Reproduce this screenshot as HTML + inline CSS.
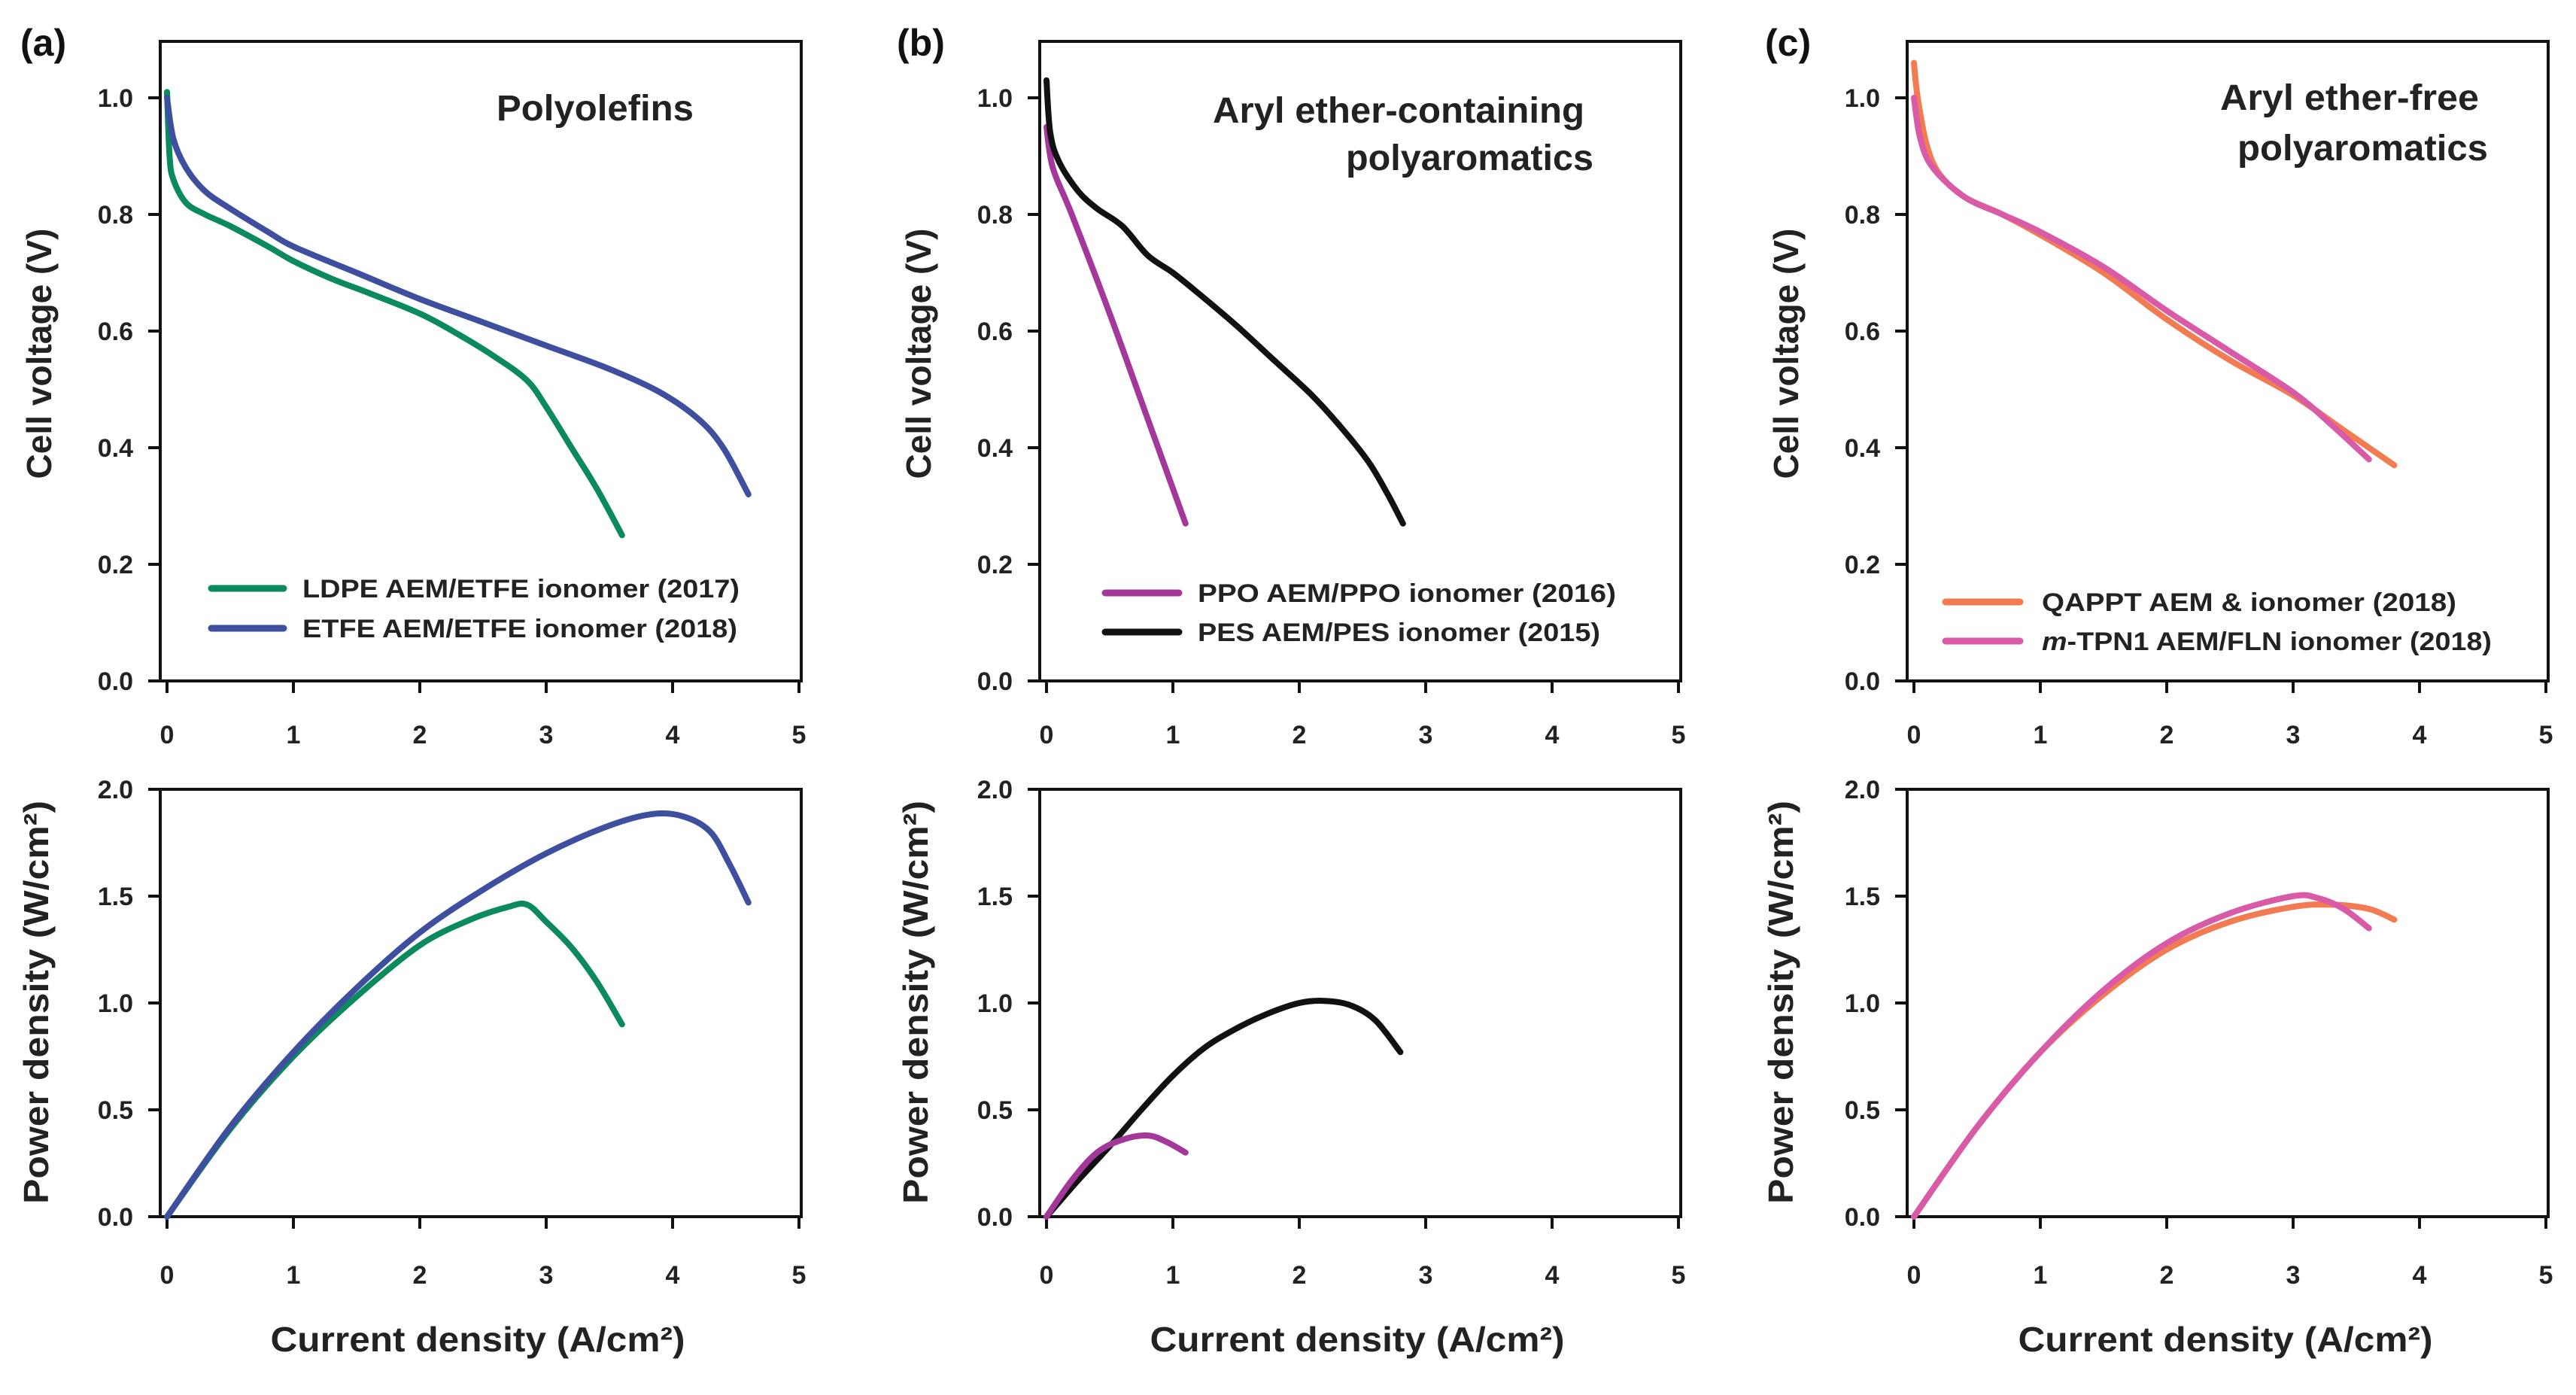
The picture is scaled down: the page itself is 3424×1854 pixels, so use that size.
<!DOCTYPE html>
<html><head><meta charset="utf-8">
<style>
html,body{margin:0;padding:0;background:#fff;}
svg{display:block;font-family:"Liberation Sans",sans-serif;}
</style></head>
<body>
<svg id="fig" width="3424" height="1854" viewBox="0 0 3424 1854" xmlns="http://www.w3.org/2000/svg"></svg>
<script>
// ---- data (current density A/cm2, voltage V, power W/cm2) ----
const xTicks = [0,1,2,3,4,5];
const vTicks = [0.0,0.2,0.4,0.6,0.8,1.0];
const vTickLabels = ["0.0","0.2","0.4","0.6","0.8","1.0"];
const pTicks = [0.0,0.5,1.0,1.5,2.0];
const pTickLabels = ["0.0","0.5","1.0","1.5","2.0"];

const ldpeI = [0,0.02,0.05,0.15,0.3,0.5,0.8,1.0,1.3,1.6,2.0,2.3,2.6,2.85,3.0,3.2,3.4,3.6];
const ldpeV = [1.01,0.90,0.86,0.82,0.80,0.78,0.745,0.72,0.69,0.665,0.63,0.595,0.555,0.515,0.47,0.40,0.33,0.25];
const etfeI = [0,0.05,0.15,0.3,0.5,0.8,1.0,1.5,2.0,2.5,3.0,3.5,3.9,4.2,4.4,4.6];
const etfeV = [1.0,0.93,0.88,0.84,0.81,0.77,0.745,0.70,0.655,0.615,0.575,0.535,0.495,0.45,0.40,0.32];
const ldpePI = [0,0.5,1.0,1.5,2.0,2.4,2.7,2.85,3.0,3.2,3.4,3.6];
const ldpeP = [0,0.41,0.75,1.03,1.27,1.39,1.45,1.46,1.38,1.26,1.10,0.90];
const etfePI = [0,0.5,1.0,1.5,2.0,2.5,3.0,3.5,3.85,4.1,4.3,4.45,4.6];
const etfeP = [0,0.42,0.77,1.07,1.33,1.53,1.70,1.83,1.885,1.87,1.80,1.65,1.47];

const ppoI = [0,0.05,0.2,0.5,0.8,1.1];
const ppoV = [0.95,0.88,0.80,0.63,0.45,0.27];
const pesI = [0,0.03,0.1,0.25,0.4,0.6,0.8,1.0,1.2,1.5,1.8,2.1,2.35,2.55,2.7,2.82];
const pesV = [1.03,0.94,0.89,0.84,0.81,0.78,0.73,0.70,0.665,0.61,0.55,0.49,0.43,0.375,0.32,0.27];
const ppoPI = [0,0.2,0.4,0.6,0.8,0.95,1.1];
const ppoP = [0,0.17,0.30,0.36,0.38,0.35,0.30];
const pesPI = [0,0.25,0.5,0.75,1.0,1.25,1.5,1.75,2.0,2.2,2.4,2.6,2.8];
const pesP = [0,0.17,0.33,0.50,0.66,0.79,0.88,0.95,1.0,1.01,0.99,0.92,0.77];

const qapptI = [0,0.03,0.1,0.2,0.4,0.7,1.0,1.5,2.0,2.5,3.0,3.4,3.8];
const qapptV = [1.06,1.0,0.92,0.87,0.83,0.80,0.765,0.70,0.62,0.55,0.49,0.43,0.37];
const tpnI = [0,0.05,0.15,0.4,0.7,1.0,1.5,2.0,2.5,3.0,3.3,3.6];
const tpnV = [1.0,0.93,0.88,0.83,0.80,0.77,0.71,0.635,0.565,0.495,0.44,0.38];
const qapptPI = [0,0.5,1.0,1.5,2.0,2.5,3.0,3.3,3.6,3.8];
const qapptP = [0,0.42,0.77,1.04,1.25,1.38,1.45,1.46,1.44,1.39];
const tpnPI = [0,0.5,1.0,1.5,2.0,2.5,3.0,3.2,3.4,3.6];
const tpnP = [0,0.42,0.77,1.06,1.28,1.42,1.50,1.49,1.44,1.35];

const NS = "http://www.w3.org/2000/svg";
const svg = document.getElementById('fig');
function mk(tag, attrs, parent){
  const e = document.createElementNS(NS, tag);
  for (const k in attrs) e.setAttribute(k, attrs[k]);
  (parent||svg).appendChild(e);
  return e;
}
function txt(s, attrs, parent){ const t = mk('text', attrs, parent); t.textContent = s; return t; }

function smoothPath(pts){
  let d = "M" + pts[0][0].toFixed(1) + "," + pts[0][1].toFixed(1);
  for (let i=0;i<pts.length-1;i++){
    const p0 = pts[Math.max(0,i-1)], p1 = pts[i], p2 = pts[i+1], p3 = pts[Math.min(pts.length-1,i+2)];
    const c1x = p1[0]+(p2[0]-p0[0])/6, c1y = p1[1]+(p2[1]-p0[1])/6;
    const c2x = p2[0]-(p3[0]-p1[0])/6, c2y = p2[1]-(p3[1]-p1[1])/6;
    d += " C"+c1x.toFixed(1)+","+c1y.toFixed(1)+" "+c2x.toFixed(1)+","+c2y.toFixed(1)+" "+p2[0].toFixed(1)+","+p2[1].toFixed(1);
  }
  return d;
}

const TOP = {y0:905, top:55, scale:775};
const BOT = {y0:1617, top:1049, scale:284};

function drawAxes(L, cfg, ticks, labels, labelY, name){
  const g = mk('g', {});
  
  
  const xs = v => L + 9 + v*168;
  const ys = v => cfg.y0 - v*cfg.scale;
  const fr = mk('rect', {x:L, y:cfg.top, width:852, height:cfg.y0-cfg.top, fill:'none', stroke:'#111', 'stroke-width':4}, g);
  
  
  xTicks.forEach(t => {
    mk('line', {x1:xs(t), y1:cfg.y0, x2:xs(t), y2:cfg.y0+16, stroke:'#111','stroke-width':4}, g);
    const tl = txt(String(t), {x:xs(t), y:labelY, 'font-size':34, 'font-weight':'bold', 'text-anchor':'middle', fill:'#222'}, g);
    
    
  });
  ticks.forEach((t,i) => {
    mk('line', {x1:L-16, y1:ys(t), x2:L, y2:ys(t), stroke:'#111','stroke-width':4}, g);
    const tl = txt(labels[i], {x:L-36, y:ys(t)+12, 'font-size':34, 'font-weight':'bold', 'text-anchor':'end', fill:'#222'}, g);
    
    
  });
  return {xs, ys};
}

function drawSeries(ax, I, Y, color, name){
  const pts = I.map((v,i)=>[ax.xs(v), ax.ys(Y[i])]);
  const p = mk('path', {d:smoothPath(pts), fill:'none', stroke:color, 'stroke-width':8, 'stroke-linecap':'round', 'stroke-linejoin':'round'});
  
  
}

function legend(x1, x2, tx, y, color, label, len, name){
  const l = mk('line', {x1:x1, y1:y, x2:x2, y2:y, stroke:color, 'stroke-width':9, 'stroke-linecap':'round'});
  
  
  const t = txt(label, {x:tx, y:y+12, 'font-size':34, 'font-weight':'bold', fill:'#222', textLength:len, lengthAdjust:'spacingAndGlyphs'});
  
  
  return t;
}

function vtitle(s, cx, cy, len, name){
  const t = txt(s, {x:0, y:0, 'font-size':46, 'font-weight':'bold', 'text-anchor':'middle', fill:'#222',
    transform:'translate('+cx+','+cy+') rotate(-90)', textLength:len, lengthAdjust:'spacingAndGlyphs'});
  
  
  return t;
}

const colors = {ldpe:'#0b8a5e', etfe:'#3d4f9e', ppo:'#a3389a', pes:'#111111', qappt:'#f27b52', tpn:'#d95aa6'};
const panels = [
  {L:213, tag:'(a)', tagX:27, vtX:68, ptX:64, xtX:635},
  {L:1382, tag:'(b)', tagX:1192, vtX:1237, ptX:1233, xtX:1804},
  {L:2535, tag:'(c)', tagX:2346, vtX:2390, ptX:2383, xtX:2958}
];

panels.forEach((P, k) => {
  const id = ['a','b','c'][k];
  const tag = txt(P.tag, {x:P.tagX, y:74, 'font-size':50, 'font-weight':'bold', fill:'#111'});
  
  
  P.axV = drawAxes(P.L, TOP, vTicks, vTickLabels, 988, 'voltage-axes-' + id);
  P.axP = drawAxes(P.L, BOT, pTicks, pTickLabels, 1706, 'power-axes-' + id);
  vtitle('Cell voltage (V)', P.vtX, 470, 333, 'y-axis-title-voltage-' + id);
  const pt = txt('', {x:0, y:0, 'font-size':46, 'font-weight':'bold', 'text-anchor':'middle', fill:'#222',
    transform:'translate('+P.ptX+',1332) rotate(-90)', textLength:536, lengthAdjust:'spacingAndGlyphs'});
  pt.textContent = 'Power density (W/cm²)';
  
  
  const xt = txt('Current density (A/cm²)', {x:P.xtX, y:1796, 'font-size':46, 'font-weight':'bold', 'text-anchor':'middle', fill:'#222', textLength:551, lengthAdjust:'spacingAndGlyphs'});
  
  
});

// titles
let t;
t = txt('Polyolefins', {x:660, y:160, 'font-size':48, 'font-weight':'bold', fill:'#222', textLength:262, lengthAdjust:'spacingAndGlyphs'});
 
t = txt('Aryl ether-containing', {x:1612, y:163, 'font-size':48, 'font-weight':'bold', fill:'#222', textLength:494, lengthAdjust:'spacingAndGlyphs'});
 
t = txt('polyaromatics', {x:1789, y:226, 'font-size':48, 'font-weight':'bold', fill:'#222', textLength:329, lengthAdjust:'spacingAndGlyphs'});
 
t = txt('Aryl ether-free', {x:2951, y:146, 'font-size':48, 'font-weight':'bold', fill:'#222', textLength:344, lengthAdjust:'spacingAndGlyphs'});
 
t = txt('polyaromatics', {x:2974, y:213, 'font-size':48, 'font-weight':'bold', fill:'#222', textLength:333, lengthAdjust:'spacingAndGlyphs'});
 

// series
const [A,B,C] = panels;
drawSeries(A.axV, ldpeI, ldpeV, colors.ldpe, 'ldpe-voltage-line');
drawSeries(A.axV, etfeI, etfeV, colors.etfe, 'etfe-voltage-line');
drawSeries(A.axP, ldpePI, ldpeP, colors.ldpe, 'ldpe-power-line');
drawSeries(A.axP, etfePI, etfeP, colors.etfe, 'etfe-power-line');
drawSeries(B.axV, ppoI, ppoV, colors.ppo, 'ppo-voltage-line');
drawSeries(B.axV, pesI, pesV, colors.pes, 'pes-voltage-line');
drawSeries(B.axP, pesPI, pesP, colors.pes, 'pes-power-line');
drawSeries(B.axP, ppoPI, ppoP, colors.ppo, 'ppo-power-line');
drawSeries(C.axV, qapptI, qapptV, colors.qappt, 'qappt-voltage-line');
drawSeries(C.axV, tpnI, tpnV, colors.tpn, 'tpn-voltage-line');
drawSeries(C.axP, qapptPI, qapptP, colors.qappt, 'qappt-power-line');
drawSeries(C.axP, tpnPI, tpnP, colors.tpn, 'tpn-power-line');

// legends
legend(281, 377, 402, 782, colors.ldpe, 'LDPE AEM/ETFE ionomer (2017)', 581, 'legend-ldpe');
legend(281, 377, 402, 835, colors.etfe, 'ETFE AEM/ETFE ionomer (2018)', 578, 'legend-etfe');
legend(1469, 1567, 1592, 788, colors.ppo, 'PPO AEM/PPO ionomer (2016)', 556, 'legend-ppo');
legend(1469, 1567, 1592, 840, colors.pes, 'PES AEM/PES ionomer (2015)', 535, 'legend-pes');
legend(2586, 2685, 2714, 800, colors.qappt, 'QAPPT AEM & ionomer (2018)', 551, 'legend-qappt');
const lt = legend(2586, 2685, 2714, 852, colors.tpn, '', 598, 'legend-tpn');
lt.innerHTML = '';
const it = document.createElementNS(NS,'tspan'); it.setAttribute('font-style','italic'); it.textContent = 'm';
lt.appendChild(it);
const rt = document.createElementNS(NS,'tspan'); rt.textContent = '-TPN1 AEM/FLN ionomer (2018)';
lt.appendChild(rt);
</script>
</body></html>
